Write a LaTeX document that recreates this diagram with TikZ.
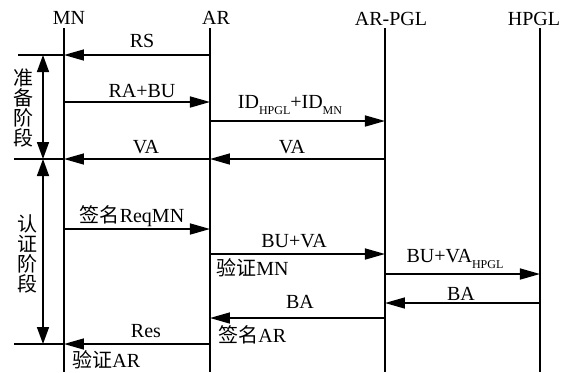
\documentclass[tikz,border=0pt]{standalone}
\usepackage{fontspec}
\setmainfont{Liberation Serif}
\newfontfamily\cjk{Noto Sans CJK SC}
\usetikzlibrary{arrows.meta}
\newcommand{\lowsub}[1]{\raisebox{-3pt}{\fontsize{6}{6}\selectfont #1}}

\begin{document}
\begin{tikzpicture}[x=0.5pt, y=-0.5pt, font=\fontsize{10}{10}\selectfont,
  life/.style={line width=1pt},
  msg/.style={line width=0.8pt, -{Triangle[length=10pt, width=5.5pt]}},
  sep/.style={line width=0.8pt},
  phase/.style={line width=0.8pt, {Triangle[length=8.5pt, width=6pt]}-{Triangle[length=8.5pt, width=6pt]}},
  lbl/.style={anchor=base, inner sep=0pt},
  note/.style={anchor=base west, inner sep=0pt},
  stage/.style={align=center, inner sep=0pt, font=\cjk\fontsize{10}{10}\selectfont}]
  \useasboundingbox (0,0) rectangle (570,372);

  % lifelines
  \node[lbl] (mnh) at (69,24) {MN};
  \node[lbl] (arh) at (216,24) {AR};
  \node[lbl] (pglh) at (391,25) {AR-PGL};
  \node[lbl] (hpglh) at (534,25) {HPGL};
  \coordinate (mn) at (64,28);   \coordinate (mnb) at (64,372);
  \coordinate (ar) at (210,28);  \coordinate (arb) at (210,372);
  \coordinate (pgl) at (385,28); \coordinate (pglb) at (385,372);
  \coordinate (hpgl) at (540,28); \coordinate (hpglb) at (540,372);
  \draw[life] (mn) -- (mnb);
  \draw[life] (ar) -- (arb);
  \draw[life] (pgl) -- (pglb);
  \draw[life] (hpgl) -- (hpglb);

  % rows
  \coordinate (rs) at (18,55);
  \coordinate (rabu) at (0,102);
  \coordinate (id) at (0,121);
  \coordinate (va) at (14,159);
  \coordinate (req) at (0,229);
  \coordinate (buva) at (0,254);
  \coordinate (buvah) at (0,274);
  \coordinate (bah) at (0,303);
  \coordinate (baa) at (0,318);
  \coordinate (res) at (14,344);
  \coordinate (stg) at (43,0);

  % messages
  \draw[msg] (ar |- rs) -- (mn |- rs);
  \draw[sep] (mn |- rs) -- (rs);
  \node[lbl] (rst) at (142,47) {RS};
  \draw[msg] (mn |- rabu) -- (ar |- rabu);
  \node[lbl] (rabut) at (142,97) {RA+BU};
  \draw[msg] (ar |- id) -- (pgl |- id);
  \node[lbl] (idt) at (290,108) {ID\lowsub{HPGL}+ID\lowsub{MN}};
  \draw[msg] (pgl |- va) -- (ar |- va);
  \draw[msg] (ar |- va) -- (mn |- va);
  \draw[sep] (mn |- va) -- (va);
  \node[lbl] (vat) at (146,153) {VA};
  \node[lbl] (vapt) at (292,153) {VA};
  \draw[msg] (mn |- req) -- (ar |- req);
  \node[lbl] (reqt) at (132,222) {{\cjk 签名}ReqMN};
  \draw[msg] (ar |- buva) -- (pgl |- buva);
  \node[lbl] (buvat) at (294,247) {BU+VA};
  \node[note] (vmn) at (216,275) {{\cjk 验证}MN};
  \draw[msg] (pgl |- buvah) -- (hpgl |- buvah);
  \node[lbl] (buvaht) at (455,262) {BU+VA\lowsub{HPGL}};
  \draw[msg] (hpgl |- bah) -- (pgl |- bah);
  \node[lbl] (baht) at (461,300) {BA};
  \draw[msg] (pgl |- baa) -- (ar |- baa);
  \node[lbl] (baat) at (300,308) {BA};
  \node[note] (sar) at (218,342) {{\cjk 签名}AR};
  \draw[msg] (ar |- res) -- (mn |- res);
  \draw[sep] (mn |- res) -- (res);
  \node[lbl] (rest) at (146,337) {Res};
  \node[note] (var) at (72,367) {{\cjk 验证}AR};

  % phases
  \draw[phase] (stg |- rs) -- (stg |- va);
  \draw[phase] (stg |- va) -- (stg |- res);
  \node[stage] (prep) at (23.5,108) {准\\备\\阶\\段};
  \node[stage] (auth) at (28,254) {认\\证\\阶\\段};
\end{tikzpicture}
\end{document}
